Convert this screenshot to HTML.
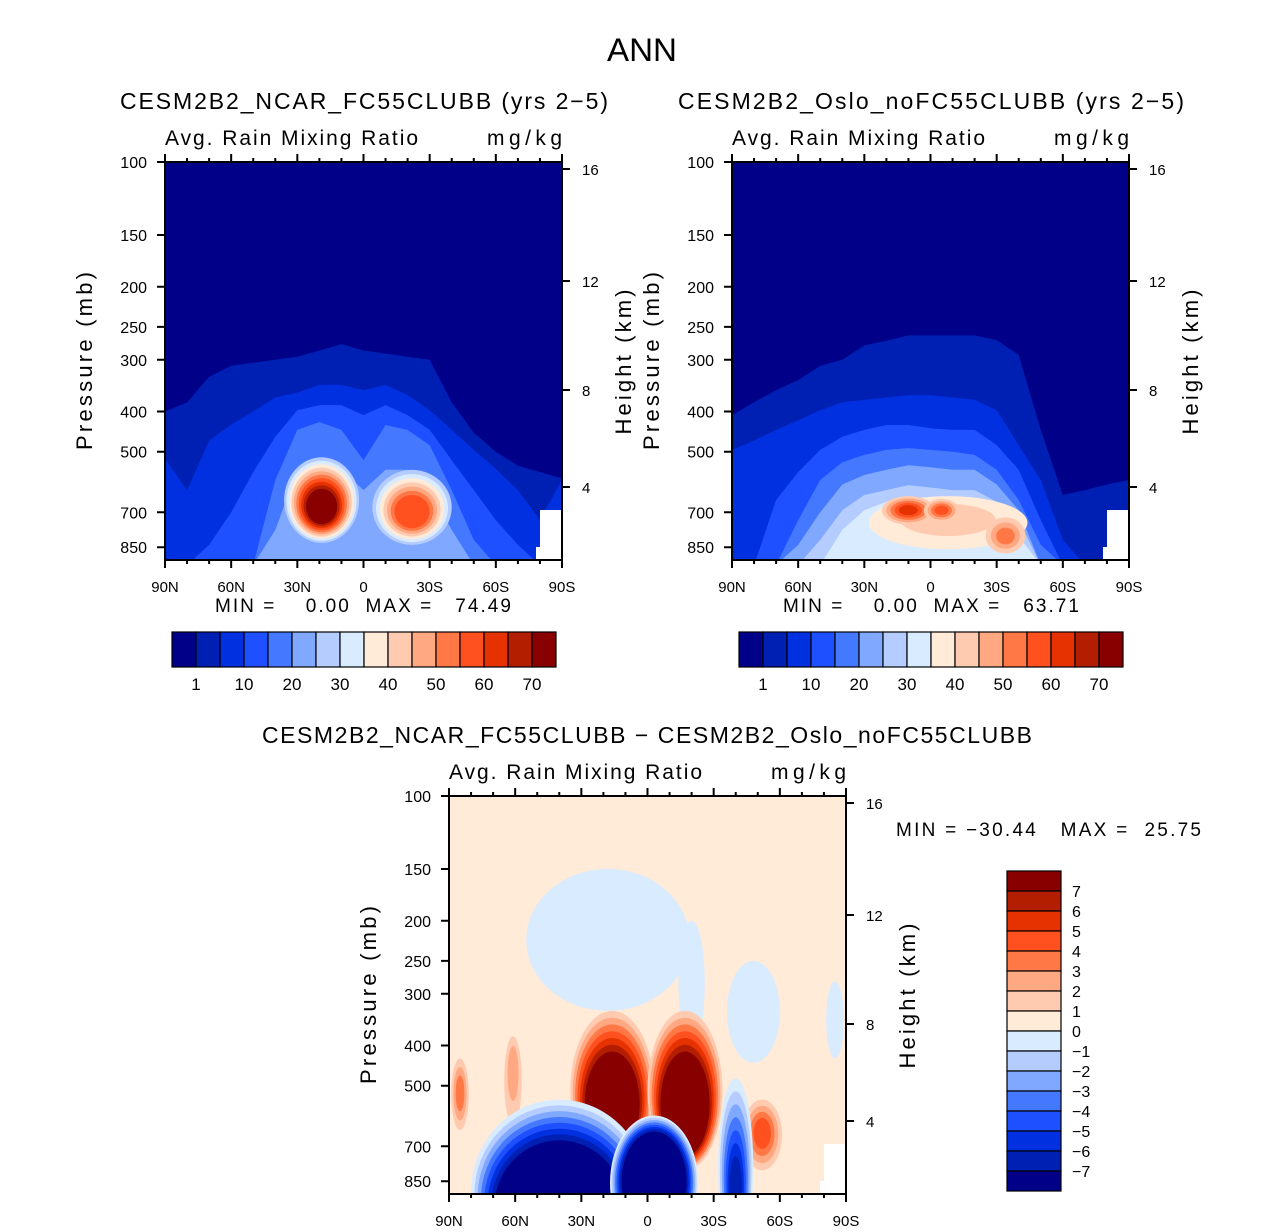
<!DOCTYPE html>
<html><head><meta charset="utf-8"><style>
html,body{margin:0;padding:0;background:#fff}
svg{display:block;font-family:"Liberation Sans",sans-serif}
</style></head><body>
<svg id="fig" width="1285" height="1232" viewBox="0 0 1285 1232" xmlns="http://www.w3.org/2000/svg">
<text x="642" y="61" font-size="32" text-anchor="middle" textLength="70" lengthAdjust="spacingAndGlyphs">ANN</text>
</svg>
<script>
const colors=['#000088','#0020b4','#0030e0','#1e50ff','#4478ff','#80a8ff','#b4ccff','#d8ebff','#ffebd8','#ffcbb0','#ffa882','#ff7846','#ff5020','#e63200','#b41e00','#880000'];
const lats=[90,80,70,60,50,40,30,20,10,0,-10,-20,-30,-40,-50,-60,-70,-80,-90];
const xTickLabels=['90N','60N','30N','0','30S','60S','90S'];
const pTicks=[100,150,200,250,300,400,500,700,850];
const hTicks=[16,12,8,4];
const hTickY=[169,281,390,487];
const barLabels1=['1','10','20','30','40','50','60','70'];
const barLabels3=['7','6','5','4','3','2','1','0','\u22121','\u22122','\u22123','\u22124','\u22125','\u22126','\u22127'];
// panel 1 level tops (mb)
const p1L1=[400,380,330,310,305,300,295,285,275,285,290,295,300,380,450,500,540,560,580];
const p1L2=[520,620,470,430,400,370,360,345,345,355,345,365,397,443,495,550,620,730,585];
const p1L3=[950,950,839,700,560,460,397,386,386,408,386,408,443,524,619,731,839,950,950];
const p1L4=[950,950,950,950,950,585,443,424,443,524,431,443,482,619,816,950,950,950,950];
const p1L5=[950,950,950,950,950,772,553,524,553,619,553,553,619,772,950,950,950,950,950];
const p1CoreLat=[19,-22],p1CoreP=[680,700],p1CoreR=[17,18],p1CoreTop=[516,553],p1CoreBot=[830,839],p1CoreStart=[6,6],p1CorePeak=[15,12];
// panel 2
const p2L1=[408,380,355,336,310,300,277,270,262,262,262,262,269,292,443,636,619,600,585];
const p2L2=[495,470,443,420,397,380,375,370,365,365,370,375,397,482,585,816,950,950,950];
const p2L3=[950,950,654,560,495,460,443,431,431,439,443,443,482,553,731,950,950,950,950];
const p2L4=[950,950,950,731,585,530,509,495,490,495,500,509,553,654,839,950,950,950,950];
const p2L5=[950,950,950,839,700,600,569,553,539,545,553,553,600,692,950,950,950,950,950];
const p2L6=[950,950,950,950,816,692,636,619,602,610,619,619,660,731,950,950,950,950,950];
const p2L7=[950,950,950,950,950,772,692,660,646,660,673,673,692,800,950,950,950,950,950];
const p2CoreLat=[-8,10,-5,-34],p2CoreP=[720,692,692,800],p2CoreR=[36,12,8,9],p2CoreTop=[640,640,650,720],p2CoreBot=[860,750,740,880],p2CoreStart=[8,9,9,9],p2CorePeak=[9,13,12,11];
// difference panel blobs
const dLat=[18,-48,-85,-20,16,-17,85,-52,61,40,-3,-40];
const dP=[215,330,340,330,560,560,520,650,450,1000,850,900];
const dR=[37,12,4,6,19,17,4,9,4,40,20,8];
const dTop=[150,250,280,200,330,330,430,540,380,540,590,480];
const dBot=[330,440,430,400,800,800,640,800,620,1500,1250,1300];
const dStart=[7,7,7,7,9,9,9,9,9,7,7,7];
const dPeak=[7,7,7,7,15,15,11,12,10,0,0,1];

const svg=document.getElementById('fig');
const NS='http://www.w3.org/2000/svg';
function mk(tag,attrs,parent){const e=document.createElementNS(NS,tag);for(const k in attrs)e.setAttribute(k,attrs[k]);(parent||svg).appendChild(e);return e;}
function txt(x,y,s,size,anchor,parent,extra){const t=mk('text',Object.assign({x:x,y:y,'font-size':size,'text-anchor':anchor||'start'},extra||{}),parent);t.textContent=s;return t;}

function makePanel(id,x0,y0,title,titleLen,minmax,mmx,layers,cores,blobs,bg,coreShr){
  const W=397,H=398;
  const xs=lat=>x0+(90-lat)/180*W;
  const ys=p=>y0+180*Math.log(p/100);
  const g=mk('g',{});
  
  
  const cp=mk('clipPath',{id:id+'-clip'},g);
  mk('rect',{x:x0,y:y0,width:W,height:H},cp);
  const plot=mk('g',{'clip-path':'url(#'+id+'-clip)'},g);
  
  
  mk('rect',{x:x0,y:y0,width:W,height:H,fill:colors[bg]},plot);
  layers.forEach((arr,i)=>{
    let d='M'+xs(90)+','+(y0+H+5);
    arr.forEach((p,j)=>{d+=' L'+xs(lats[j]).toFixed(1)+','+Math.min(ys(p),y0+H+5).toFixed(1);});
    d+=' L'+xs(-90)+','+(y0+H+5)+'Z';
    const e=mk('path',{d:d,fill:colors[i+1]},plot);
    
    
  });
  function drawBlob(lat,p,r,top,bot,start,peak,shr){
    const n=Math.abs(peak-start)+1;const step=peak>=start?1:-1;
    const cx=xs(lat),cy=(ys(top)+ys(bot))/2,rx=r*W/180,ry=(ys(bot)-ys(top))/2;
    const cyc=ys(p);
    for(let i=0;i<n;i++){
      const f=1-i/n*shr;
      const yc=cy+(cyc-cy)*(i/n);
      const e=mk('ellipse',{cx:cx.toFixed(1),cy:yc.toFixed(1),rx:(rx*f).toFixed(1),ry:(ry*f).toFixed(1),fill:colors[start+i*step]},plot);
      
      
    }
  }
  if(cores){for(let i=0;i<cores[0].length;i++)drawBlob(cores[0][i],cores[1][i],cores[2][i],cores[3][i],cores[4][i],cores[5][i],cores[6][i],coreShr);}
  if(blobs){for(let i=0;i<blobs[0].length;i++){const pk=blobs[6][i];const sh=(pk===15)?0.4:(pk===0?0.3:0.75);drawBlob(blobs[0][i],blobs[1][i],blobs[2][i],blobs[3][i],blobs[4][i],blobs[5][i],pk,sh);}}
  const wb=mk('path',{d:`M${x0+W-22},${y0+H} L${x0+W-22},${y0+348} L${x0+W},${y0+348} L${x0+W},${y0+H}Z M${x0+W-26},${y0+H} L${x0+W-26},${y0+385} L${x0+W-20},${y0+385} L${x0+W-20},${y0+H}Z`,fill:'#fff'},plot);
  
  
  const fr=mk('rect',{x:x0,y:y0,width:W,height:H,fill:'none',stroke:'#000','stroke-width':2},g);
  
  
  let td='';
  for(let lat=90;lat>=-90;lat-=10){const x=xs(lat);const L=(lat%30===0)?8:4;td+=`M${x},${y0+H}v${L}M${x},${y0}v${-L}`;}
  pTicks.forEach(p=>{td+=`M${x0},${ys(p)}h-8`;});
  hTickY.forEach(y=>{td+=`M${x0+W},${y-162+y0}h8`;});
  const tk=mk('path',{d:td,stroke:'#000','stroke-width':2,fill:'none'},g);
  
  
  xTickLabels.forEach((s,i)=>{const t=txt(x0+i*W/6,y0+H+32,s,15,'middle',g);});
  pTicks.forEach(p=>{const t=txt(x0-18,ys(p)+6,String(p),16,'end',g);});
  hTicks.forEach((h,i)=>{const t=txt(x0+W+20,hTickY[i]-162+y0+6,String(h),15,'start',g);});
  let t=txt(x0,y0-17,'Avg. Rain Mixing Ratio',21,'start',g,{textLength:253,lengthAdjust:'spacing'});
  t=txt(x0+W,y0-17,'mg/kg',21,'end',g,{textLength:75,lengthAdjust:'spacing'});
  t=txt(0,0,'Pressure (mb)',22,'middle',g,{transform:`translate(${x0-73},${y0+199}) rotate(-90)`,textLength:178,lengthAdjust:'spacing'});
  t=txt(0,0,'Height (km)',22,'middle',g,{transform:`translate(${x0+W+69},${y0+200}) rotate(-90)`,textLength:145,lengthAdjust:'spacing'});
  t=txt(titleLen[0],y0-53,title,23,'start',g,{textLength:titleLen[1],lengthAdjust:'spacing'});
  t=txt(mmx[0],mmx[1],minmax,19,'start',g,{'xml:space':'preserve',style:'white-space:pre',textLength:mmx[2],lengthAdjust:'spacing'});
}
makePanel('panel-ncar',165,162,'CESM2B2_NCAR_FC55CLUBB (yrs 2\u22125)',[120,488],'MIN =    0.00  MAX =   74.49',[215,612,296],[p1L1,p1L2,p1L3,p1L4,p1L5],[p1CoreLat,p1CoreP,p1CoreR,p1CoreTop,p1CoreBot,p1CoreStart,p1CorePeak],null,0,0.65);
makePanel('panel-oslo',732,162,'CESM2B2_Oslo_noFC55CLUBB (yrs 2\u22125)',[678,506],'MIN =    0.00  MAX =   63.71',[783,612,296],[p2L1,p2L2,p2L3,p2L4,p2L5,p2L6,p2L7],[p2CoreLat,p2CoreP,p2CoreR,p2CoreTop,p2CoreBot,p2CoreStart,p2CorePeak],null,0,0.8);
makePanel('diff-panel',449,796,'CESM2B2_NCAR_FC55CLUBB \u2212 CESM2B2_Oslo_noFC55CLUBB',[262,770],'MIN = \u221230.44   MAX =  25.75',[896,836,305],[],null,[dLat,dP,dR,dTop,dBot,dStart,dPeak],8,0.8);

function hbar(x0,id){
  const g=mk('g',{});
  
  
  colors.forEach((c,i)=>{const r=mk('rect',{x:x0+i*24,y:632,width:24,height:35,fill:c,stroke:'#000','stroke-width':1.2},g);});
  barLabels1.forEach((s,i)=>{const t=txt(x0+24+i*48,690,s,17,'middle',g);});
}
hbar(172,'colorbar-ncar');hbar(739,'colorbar-oslo');
const vg=mk('g',{});


colors.slice().reverse().forEach((c,i)=>{const r=mk('rect',{x:1007,y:871+i*20,width:54,height:20,fill:c,stroke:'#000','stroke-width':1.2},vg);});
barLabels3.forEach((s,i)=>{const t=txt(1072,897+i*20,s,16,'start',vg);});
</script>
</body></html>
